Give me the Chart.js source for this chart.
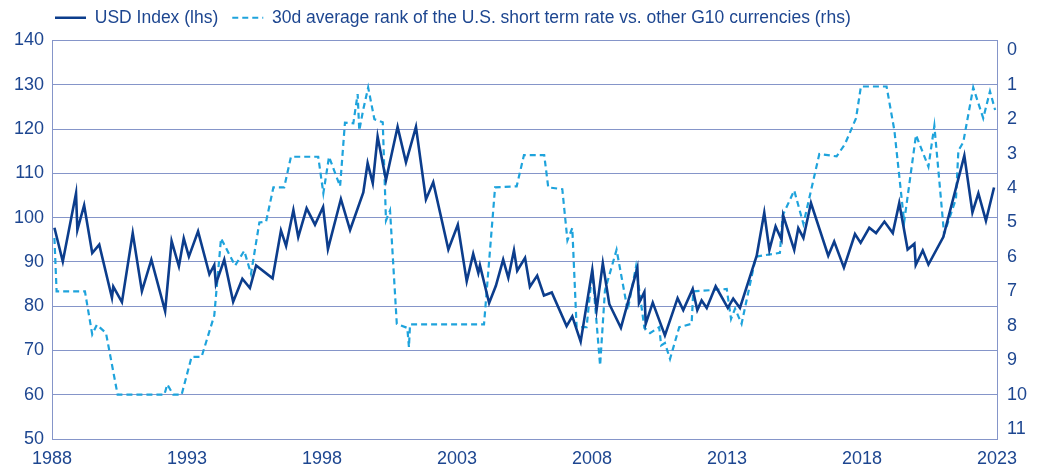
<!DOCTYPE html>
<html>
<head>
<meta charset="utf-8">
<script src="https://cdn.jsdelivr.net/npm/chart.js@4.4.1/dist/chart.umd.min.js"></script>
<style>
html,body{margin:0;padding:0;background:#fff;}
canvas{display:block;}
</style>
</head>
<body>
<canvas id="chart" width="1040" height="469"></canvas>
<script>
// USD index (left axis)
const usdYears=[1988.09,1988.40,1988.89,1988.94,1989.19,1989.49,1989.75,1990.22,1990.27,1990.59,
  1990.99,1991.33,1991.68,1992.19,1992.43,1992.70,1992.88,1993.07,1993.41,1993.83,
  1994.01,1994.07,1994.38,1994.71,1995.05,1995.33,1995.56,1996.17,1996.48,1996.67,
  1996.94,1997.12,1997.43,1997.74,1998.04,1998.22,1998.70,1999.04,1999.53,1999.69,
  1999.88,2000.06,2000.37,2000.80,2001.11,2001.48,2001.85,2002.12,2002.68,2003.03,
  2003.36,2003.60,2003.79,2003.85,2004.19,2004.44,2004.71,2004.90,2005.11,2005.23,
  2005.52,2005.70,2005.97,2006.22,2006.51,2007.06,2007.27,2007.58,2008.01,2008.17,
  2008.40,2008.64,2009.07,2009.68,2009.74,2009.94,2009.99,2010.25,2010.70,2011.17,
  2011.38,2011.73,2011.90,2012.06,2012.25,2012.58,2013.03,2013.23,2013.48,2014.10,
  2014.38,2014.57,2014.80,2015.02,2015.08,2015.49,2015.64,2015.83,2016.11,2016.75,
  2016.97,2017.33,2017.74,2017.95,2018.27,2018.52,2018.83,2019.14,2019.38,2019.69,
  2019.94,2019.99,2020.25,2020.46,2021.01,2021.79,2022.09,2022.31,2022.59,2022.89];
const usdIndex=[97.7,90.1,105.5,97.2,102.8,92.0,93.9,81.9,84.4,80.9,
  96.5,83.4,90.5,78.9,94.7,89.0,95.3,91.2,96.9,87.2,
  89.3,85.0,90.5,81.0,86.2,84.1,89.2,86.3,97.1,93.6,
  101.7,95.6,102.1,98.4,102.4,92.9,104.2,97.2,105.7,112.3,
  107.8,118.3,108.5,120.5,112.5,120.5,104.1,108.0,92.8,98.4,
  85.6,91.8,87.5,89.2,80.7,84.6,90.5,86.4,92.6,88.0,
  90.9,84.4,86.9,82.4,83.1,75.5,77.7,72.0,88.2,79.2,
  89.7,80.5,75.1,88.6,80.7,83.2,76.0,80.8,73.4,81.8,
  79.1,83.9,79.1,81.3,79.6,84.5,79.6,81.7,79.6,91.4,
  101.1,92.7,98.0,95.0,100.5,92.7,97.6,95.4,103.3,91.4,
  94.6,88.7,96.3,94.3,97.7,96.5,99.1,96.5,103.3,92.8,
  94.1,89.3,92.6,89.4,95.6,114.0,101.2,105.5,99.3,106.8];

// 30d average rank of the U.S. short term rate (right axis, reversed)
const rankYears=[1988.09,1988.17,1989.22,1989.49,1989.66,1990.00,1990.43,1992.16,1992.27,1992.49,
  1992.80,1993.17,1993.54,1994.01,1994.26,1994.78,1995.12,1995.37,1995.68,1995.93,
  1996.20,1996.60,1996.85,1997.86,1998.05,1998.26,1998.67,1998.85,1999.16,1999.32,
  1999.38,1999.53,1999.71,1999.94,2000.25,2000.37,2000.52,2000.77,2001.16,2001.22,
  2001.26,2004.00,2004.41,2005.21,2005.48,2006.23,2006.38,2006.90,2007.09,2007.27,
  2007.43,2007.80,2008.01,2008.30,2008.48,2008.91,2009.32,2009.63,2009.94,2010.15,
  2010.49,2010.56,2010.70,2010.89,2011.23,2011.69,2011.75,2012.99,2013.15,2013.30,
  2013.54,2014.07,2014.96,2015.06,2015.49,2015.83,2016.42,2017.06,2017.37,2017.78,
  2017.96,2018.91,2019.20,2019.53,2019.56,2020.00,2020.46,2020.68,2021.04,2021.48,
  2021.57,2021.75,2022.12,2022.49,2022.74,2022.93];
const rankValues=[5.45,7.0,7.0,8.25,7.97,8.21,10.0,10.0,9.7,10.0,
  10.0,8.9,8.9,7.7,5.46,6.25,5.82,6.49,5.0,4.97,
  3.98,3.98,3.09,3.09,4.15,3.09,3.95,2.1,2.12,1.27,
  2.33,1.71,1.08,2.0,2.09,4.94,4.65,7.94,8.06,8.62,
  7.96,7.96,3.98,3.95,3.04,3.04,3.98,4.03,5.52,5.16,
  8.04,8.04,6.39,9.15,6.97,5.79,7.55,6.28,8.06,8.21,
  8.04,8.57,8.5,8.96,8.04,7.94,7.0,6.93,7.8,7.5,
  7.94,5.99,5.88,4.8,4.07,5.04,3.01,3.08,2.72,1.97,
  1.05,1.05,2.33,4.75,4.99,2.46,3.38,2.19,5.33,4.31,
  2.91,2.67,1.08,1.97,1.19,1.73];

const xTicks=[1988,1993,1998,2003,2008,2013,2018,2023];
const leftTicks=[50,60,70,80,90,100,110,120,130,140];
const rightTicks=[0,1,2,3,4,5,6,7,8,9,10,11];

const NAVY='#0c3d8c';
const LIGHT='#1ea3dc';
const TXT='#1d4690';
const GRID='#8595c9';
const FONT='"Liberation Sans", Arial, sans-serif';

const usdPts=usdYears.map((x,i)=>({x:x,y:usdIndex[i]}));
const rankPts=rankYears.map((x,i)=>({x:x,y:rankValues[i]}));

// nudge the legend to sit over the plot like the original
const legendNudge={
  id:'legendNudge',
  afterLayout(chart){
    const lg=chart.legend;
    lg.left+=41; lg.right+=41;
    lg.top-=4; lg.bottom-=4;
  }
};

// line-style legend keys that keep each dataset's dash
function legendLabels(chart){
  const items=Chart.defaults.plugins.legend.labels.generateLabels(chart);
  items.forEach(it=>{
    const ds=chart.data.datasets[it.datasetIndex];
    it.pointStyle='line';
    it.lineDash=ds.borderDash||[];
    it.lineWidth=ds.borderWidth;
    it.strokeStyle=ds.borderColor;
  });
  return items;
}

new Chart(document.getElementById('chart'),{
  type:'line',
  data:{datasets:[
    {label:'USD Index (lhs)',data:usdPts,yAxisID:'y',borderColor:NAVY,backgroundColor:'rgba(0,0,0,0)',
      borderWidth:2.6,pointRadius:0,tension:0},
    {label:'30d average rank of the U.S. short term rate vs. other G10 currencies (rhs)',data:rankPts,yAxisID:'y2',
      borderColor:LIGHT,backgroundColor:'rgba(0,0,0,0)',borderWidth:2.2,borderDash:[6,4],pointRadius:0,tension:0}
  ]},
  plugins:[legendNudge],
  options:{
    responsive:false,animation:false,
    layout:{padding:{left:0,right:0,top:-1,bottom:0}},
    plugins:{
      tooltip:{enabled:false},
      legend:{display:true,position:'top',align:'start',
        labels:{color:TXT,font:{family:FONT,size:17.5},usePointStyle:true,
          pointStyleWidth:31,boxWidth:31,padding:14,generateLabels:legendLabels}}
    },
    scales:{
      x:{type:'linear',min:1988,max:2023,
        afterBuildTicks:s=>{s.ticks=xTicks.map(v=>({value:v}));},
        afterFit:s=>{s.height=30;},
        grid:{display:false,drawTicks:false},
        border:{display:true,color:GRID,width:1},
        ticks:{color:TXT,font:{family:FONT,size:18},padding:9,maxRotation:0,autoSkip:false,
          callback:v=>String(v)}},
      y:{position:'left',min:50,max:140,
        afterBuildTicks:s=>{s.ticks=leftTicks.map(v=>({value:v}));},
        afterFit:s=>{s.width=52;},
        grid:{color:GRID,lineWidth:1,drawTicks:false},
        border:{display:true,color:GRID,width:1},
        ticks:{color:TXT,font:{family:FONT,size:18},padding:8}},
      y2:{position:'right',min:-2/7,max:79/7,reverse:true,
        afterBuildTicks:s=>{s.ticks=rightTicks.map(v=>({value:v}));},
        afterFit:s=>{s.width=43;},
        grid:{display:false,drawTicks:false},
        border:{display:true,color:GRID,width:1},
        ticks:{color:TXT,font:{family:FONT,size:18},padding:10}}
    }
  }
});
</script>
</body>
</html>
